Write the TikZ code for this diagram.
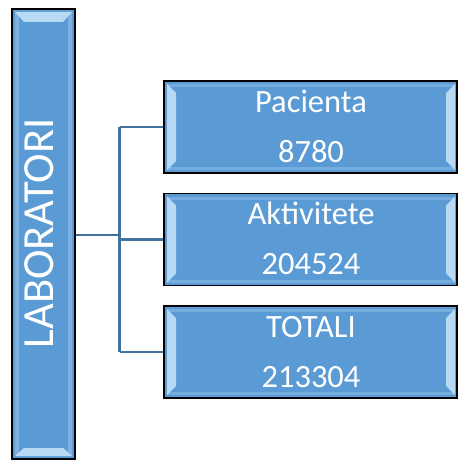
\documentclass[tikz,border=0pt]{standalone}
\usepackage{fontspec}
\setmainfont{Carlito}
\definecolor{boxfill}{HTML}{5B9BD5}
\definecolor{bevel}{HTML}{C9E4FA}
\definecolor{linec}{HTML}{41719C}
\begin{document}
\begin{tikzpicture}[x=1pt,y=-1pt,
  box/.style={draw=black,line width=1.6pt,fill=boxfill,minimum width=#1,inner sep=0pt},
  conn/.style={draw=linec,line width=2.4pt},
  lbl/.style={text=white,font=\fontsize{32.5}{32.5}\selectfont,anchor=base},
  hi/.style={fill=bevel,draw=none,opacity=0.85}]
\useasboundingbox (0,0) rectangle (458,460);
% left box
\node[box=63pt,minimum height=450pt] (lab) at (43.5,234) {};
\fill[hi] (15,12) -- (72,12) -- (63,22) -- (24,22) -- cycle;
\fill[hi] (15,456) -- (72,456) -- (63,448) -- (24,448) -- cycle;
\fill[bevel,opacity=0.3] (15,12) rectangle (19,456);
\fill[bevel,opacity=0.3] (68,12) rectangle (72,456);
\node[text=white,font=\fontsize{44.5}{44.5}\selectfont,rotate=90,anchor=base] (labt) at (53.5,233.5) {LABORATORI};
% right boxes
\foreach \n/\cy/\ta/\tb in {b1/127/Pacienta/8780, b2/239.5/Aktivitete/204524, b3/352/TOTALI/213304}{
  \node[box=293pt,minimum height=92pt] (\n) at (310.5,\cy) {};
  \fill[hi] (167,\cy-43) -- (167,\cy+43) -- (176,\cy+34) -- (176,\cy-34) -- cycle;
  \fill[hi] (455,\cy-43) -- (455,\cy+43) -- (446,\cy+34) -- (446,\cy-34) -- cycle;
  \fill[bevel,opacity=0.25] (167,\cy-43) rectangle (455,\cy-40);
  \fill[bevel,opacity=0.25] (167,\cy+40) rectangle (455,\cy+43);
  \node[lbl] (\n t) at (311,\cy-15) {\ta};
  \node[lbl] (\n n) at (311,\cy+35) {\tb};
}
% connectors
\coordinate (j) at (119.5,235);
\draw[conn] (lab.east |- j) -- (j);
\draw[conn] (j |- b1.west) -- (j |- b3.west);
\draw[conn] (j |- b1.west) -- (b1.west);
\draw[conn] (j |- b2.west) -- (b2.west);
\draw[conn] (j |- b3.west) -- (b3.west);
\end{tikzpicture}
\end{document}
